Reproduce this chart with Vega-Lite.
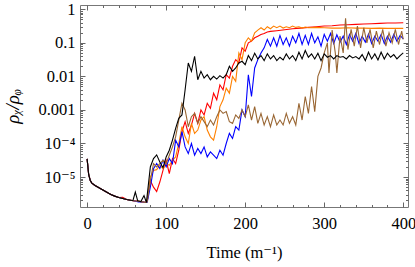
{
"$schema":"https://vega.github.io/schema/vega-lite/v6.json",
"autosize":{"type":"none"},
"padding":{"left":80,"top":5,"right":7,"bottom":60},
"width":328,"height":202,
"config":{"view":{"stroke":"#777","strokeWidth":1},"font":"Liberation Serif, Times New Roman, DejaVu Serif, serif"},
"datasets":{"d":[
{"s":"red","t":0,"v":3.47e-5},{"s":"red","t":2,"v":1.17e-5},{"s":"red","t":4,"v":7.9e-6},{"s":"red","t":6,"v":6.6e-6},{"s":"red","t":10,"v":5.6e-6},{"s":"red","t":15,"v":4.8e-6},{"s":"red","t":20,"v":4.1e-6},{"s":"red","t":25,"v":3.5e-6},{"s":"red","t":30,"v":3.0e-6},{"s":"red","t":35,"v":2.7e-6},{"s":"red","t":40,"v":2.45e-6},{"s":"red","t":45,"v":2.5e-6},{"s":"red","t":50,"v":2.14e-6},{"s":"red","t":55,"v":2.04e-6},{"s":"red","t":60,"v":1.95e-6},{"s":"red","t":65,"v":1.9e-6},{"s":"red","t":70,"v":1.82e-6},{"s":"red","t":74,"v":1.74e-6},
{"s":"red","t":76,"v":1.9e-6},{"s":"red","t":80,"v":7.9e-6},{"s":"red","t":84,"v":5.0e-6},{"s":"red","t":88,"v":3.7e-6},{"s":"red","t":92,"v":7.1e-6},{"s":"red","t":96,"v":1.58e-5},{"s":"red","t":100,"v":3.16e-5},{"s":"red","t":104,"v":1.26e-5},{"s":"red","t":108,"v":3.55e-5},{"s":"red","t":112,"v":2.51e-5},{"s":"red","t":116,"v":6.3e-5},{"s":"red","t":120,"v":2.24e-4},{"s":"red","t":124,"v":4.47e-4},{"s":"red","t":128,"v":2.0e-4},{"s":"red","t":132,"v":3.55e-4},{"s":"red","t":136,"v":7.9e-4},{"s":"red","t":140,"v":3.98e-4},{"s":"red","t":144,"v":1.0e-3},{"s":"red","t":148,"v":7.1e-4},{"s":"red","t":152,"v":1.58e-3},{"s":"red","t":156,"v":1.12e-3},{"s":"red","t":160,"v":3.16e-3},{"s":"red","t":164,"v":2.0e-3},{"s":"red","t":168,"v":5.6e-3},{"s":"red","t":172,"v":3.98e-3},{"s":"red","t":176,"v":0.0112},{"s":"red","t":180,"v":0.0089},{"s":"red","t":184,"v":0.02},{"s":"red","t":188,"v":0.0316},{"s":"red","t":192,"v":0.0251},{"s":"red","t":196,"v":0.0708},{"s":"red","t":200,"v":0.0562},{"s":"red","t":204,"v":0.1},{"s":"red","t":208,"v":0.112},{"s":"red","t":212,"v":0.141},{"s":"red","t":216,"v":0.158},{"s":"red","t":220,"v":0.178},{"s":"red","t":224,"v":0.19},{"s":"red","t":228,"v":0.209},{"s":"red","t":232,"v":0.219},{"s":"red","t":240,"v":0.229},{"s":"red","t":250,"v":0.245},{"s":"red","t":260,"v":0.263},{"s":"red","t":270,"v":0.275},{"s":"red","t":280,"v":0.288},{"s":"red","t":290,"v":0.302},{"s":"red","t":300,"v":0.316},{"s":"red","t":310,"v":0.324},{"s":"red","t":320,"v":0.339},{"s":"red","t":330,"v":0.347},{"s":"red","t":340,"v":0.355},{"s":"red","t":350,"v":0.363},{"s":"red","t":360,"v":0.372},{"s":"red","t":370,"v":0.38},{"s":"red","t":380,"v":0.389},{"s":"red","t":390,"v":0.389},{"s":"red","t":400,"v":0.398},
{"s":"orange","t":0,"v":3.47e-5},{"s":"orange","t":2,"v":1.17e-5},{"s":"orange","t":4,"v":7.9e-6},{"s":"orange","t":6,"v":6.6e-6},{"s":"orange","t":10,"v":5.6e-6},{"s":"orange","t":15,"v":4.8e-6},{"s":"orange","t":20,"v":4.1e-6},{"s":"orange","t":25,"v":3.5e-6},{"s":"orange","t":30,"v":3.0e-6},{"s":"orange","t":35,"v":2.7e-6},{"s":"orange","t":40,"v":2.45e-6},{"s":"orange","t":45,"v":2.3e-6},{"s":"orange","t":50,"v":2.14e-6},{"s":"orange","t":55,"v":2.04e-6},{"s":"orange","t":60,"v":1.95e-6},{"s":"orange","t":65,"v":1.9e-6},{"s":"orange","t":70,"v":1.82e-6},{"s":"orange","t":74,"v":1.74e-6},
{"s":"orange","t":76,"v":1.82e-6},{"s":"orange","t":80,"v":1.0e-5},{"s":"orange","t":84,"v":1.58e-5},{"s":"orange","t":88,"v":1.66e-5},{"s":"orange","t":92,"v":2.24e-5},{"s":"orange","t":96,"v":1.78e-5},{"s":"orange","t":100,"v":2.51e-5},{"s":"orange","t":104,"v":2.24e-5},{"s":"orange","t":108,"v":3.16e-5},{"s":"orange","t":112,"v":3.98e-5},{"s":"orange","t":116,"v":1.0e-4},{"s":"orange","t":120,"v":3.16e-4},{"s":"orange","t":124,"v":1.58e-4},{"s":"orange","t":128,"v":1.0e-4},{"s":"orange","t":132,"v":3.98e-4},{"s":"orange","t":136,"v":2.0e-4},{"s":"orange","t":140,"v":2.51e-4},{"s":"orange","t":144,"v":5.0e-4},{"s":"orange","t":148,"v":6.3e-4},{"s":"orange","t":152,"v":2.51e-4},{"s":"orange","t":156,"v":1.58e-4},{"s":"orange","t":160,"v":1.26e-4},{"s":"orange","t":164,"v":3.16e-4},{"s":"orange","t":168,"v":1.26e-3},{"s":"orange","t":172,"v":2.0e-3},{"s":"orange","t":176,"v":4.47e-3},{"s":"orange","t":180,"v":3.16e-3},{"s":"orange","t":184,"v":0.01},{"s":"orange","t":188,"v":7.1e-3},{"s":"orange","t":192,"v":0.05},{"s":"orange","t":196,"v":0.0316},{"s":"orange","t":200,"v":0.1},{"s":"orange","t":204,"v":0.141},{"s":"orange","t":208,"v":0.112},{"s":"orange","t":212,"v":0.2},{"s":"orange","t":216,"v":0.24},{"s":"orange","t":220,"v":0.282},{"s":"orange","t":224,"v":0.24},{"s":"orange","t":228,"v":0.302},{"s":"orange","t":232,"v":0.263},{"s":"orange","t":236,"v":0.316},{"s":"orange","t":240,"v":0.282},{"s":"orange","t":244,"v":0.316},{"s":"orange","t":248,"v":0.275},{"s":"orange","t":252,"v":0.302},{"s":"orange","t":256,"v":0.282},{"s":"orange","t":260,"v":0.316},{"s":"orange","t":264,"v":0.288},{"s":"orange","t":268,"v":0.302},{"s":"orange","t":272,"v":0.275},{"s":"orange","t":276,"v":0.295},{"s":"orange","t":280,"v":0.282},{"s":"orange","t":290,"v":0.288},{"s":"orange","t":300,"v":0.282},{"s":"orange","t":310,"v":0.275},{"s":"orange","t":320,"v":0.275},{"s":"orange","t":330,"v":0.282},{"s":"orange","t":340,"v":0.275},{"s":"orange","t":350,"v":0.275},{"s":"orange","t":360,"v":0.269},{"s":"orange","t":370,"v":0.275},{"s":"orange","t":380,"v":0.269},{"s":"orange","t":390,"v":0.269},{"s":"orange","t":400,"v":0.269},
{"s":"blue","t":0,"v":3.47e-5},{"s":"blue","t":2,"v":1.17e-5},{"s":"blue","t":4,"v":7.9e-6},{"s":"blue","t":6,"v":6.6e-6},{"s":"blue","t":10,"v":5.6e-6},{"s":"blue","t":15,"v":4.8e-6},{"s":"blue","t":20,"v":4.1e-6},{"s":"blue","t":25,"v":3.5e-6},{"s":"blue","t":30,"v":3.0e-6},{"s":"blue","t":35,"v":2.7e-6},{"s":"blue","t":40,"v":2.45e-6},{"s":"blue","t":45,"v":2.3e-6},{"s":"blue","t":50,"v":2.14e-6},{"s":"blue","t":55,"v":2.04e-6},{"s":"blue","t":60,"v":1.95e-6},{"s":"blue","t":65,"v":1.8e-6},{"s":"blue","t":70,"v":1.82e-6},{"s":"blue","t":74,"v":1.74e-6},
{"s":"blue","t":76,"v":1.78e-6},{"s":"blue","t":80,"v":5.0e-6},{"s":"blue","t":84,"v":1.78e-5},{"s":"blue","t":88,"v":2.51e-5},{"s":"blue","t":92,"v":1.78e-5},{"s":"blue","t":96,"v":3.16e-5},{"s":"blue","t":100,"v":2.0e-5},{"s":"blue","t":104,"v":3.55e-5},{"s":"blue","t":108,"v":2.51e-5},{"s":"blue","t":112,"v":1.26e-4},{"s":"blue","t":116,"v":7.9e-5},{"s":"blue","t":120,"v":2.24e-4},{"s":"blue","t":124,"v":7.9e-5},{"s":"blue","t":128,"v":5.0e-5},{"s":"blue","t":132,"v":1.0e-4},{"s":"blue","t":136,"v":4.47e-5},{"s":"blue","t":140,"v":7.1e-5},{"s":"blue","t":144,"v":5.0e-5},{"s":"blue","t":148,"v":7.9e-5},{"s":"blue","t":152,"v":3.98e-5},{"s":"blue","t":156,"v":5.6e-5},{"s":"blue","t":160,"v":4.47e-5},{"s":"blue","t":164,"v":3.55e-5},{"s":"blue","t":168,"v":6.3e-5},{"s":"blue","t":172,"v":4.47e-5},{"s":"blue","t":176,"v":1.0e-4},{"s":"blue","t":180,"v":2.0e-4},{"s":"blue","t":184,"v":1.41e-4},{"s":"blue","t":188,"v":3.16e-4},{"s":"blue","t":192,"v":2.51e-4},{"s":"blue","t":196,"v":1.0e-3},{"s":"blue","t":200,"v":6.3e-4},{"s":"blue","t":204,"v":0.0112},{"s":"blue","t":208,"v":2.51e-3},{"s":"blue","t":212,"v":0.0178},{"s":"blue","t":216,"v":0.0316},{"s":"blue","t":220,"v":0.05},{"s":"blue","t":224,"v":0.0708},{"s":"blue","t":228,"v":0.126},{"s":"blue","t":232,"v":0.0794},{"s":"blue","t":236,"v":0.141},{"s":"blue","t":240,"v":0.0794},{"s":"blue","t":244,"v":0.166},{"s":"blue","t":248,"v":0.0891},{"s":"blue","t":252,"v":0.141},{"s":"blue","t":256,"v":0.0794},{"s":"blue","t":260,"v":0.158},{"s":"blue","t":264,"v":0.1},{"s":"blue","t":268,"v":0.19},{"s":"blue","t":272,"v":0.0891},{"s":"blue","t":276,"v":0.166},{"s":"blue","t":280,"v":0.0891},{"s":"blue","t":284,"v":0.19},{"s":"blue","t":288,"v":0.1},{"s":"blue","t":292,"v":0.151},{"s":"blue","t":296,"v":0.0794},{"s":"blue","t":300,"v":0.178},{"s":"blue","t":304,"v":0.112},{"s":"blue","t":308,"v":0.19},{"s":"blue","t":312,"v":0.0955},{"s":"blue","t":316,"v":0.174},{"s":"blue","t":320,"v":0.105},{"s":"blue","t":324,"v":0.158},{"s":"blue","t":328,"v":0.0891},{"s":"blue","t":332,"v":0.178},{"s":"blue","t":336,"v":0.112},{"s":"blue","t":340,"v":0.19},{"s":"blue","t":344,"v":0.0955},{"s":"blue","t":348,"v":0.158},{"s":"blue","t":352,"v":0.105},{"s":"blue","t":356,"v":0.182},{"s":"blue","t":360,"v":0.0955},{"s":"blue","t":364,"v":0.158},{"s":"blue","t":368,"v":0.112},{"s":"blue","t":372,"v":0.178},{"s":"blue","t":376,"v":0.0955},{"s":"blue","t":380,"v":0.158},{"s":"blue","t":384,"v":0.105},{"s":"blue","t":388,"v":0.178},{"s":"blue","t":392,"v":0.112},{"s":"blue","t":396,"v":0.166},{"s":"blue","t":400,"v":0.132},
{"s":"brown","t":0,"v":3.47e-5},{"s":"brown","t":2,"v":1.17e-5},{"s":"brown","t":4,"v":7.9e-6},{"s":"brown","t":6,"v":6.6e-6},{"s":"brown","t":10,"v":5.6e-6},{"s":"brown","t":15,"v":4.8e-6},{"s":"brown","t":20,"v":4.1e-6},{"s":"brown","t":25,"v":3.5e-6},{"s":"brown","t":30,"v":3.0e-6},{"s":"brown","t":35,"v":2.7e-6},{"s":"brown","t":40,"v":2.45e-6},{"s":"brown","t":45,"v":2.3e-6},{"s":"brown","t":50,"v":2.14e-6},{"s":"brown","t":55,"v":2.04e-6},{"s":"brown","t":60,"v":1.95e-6},{"s":"brown","t":65,"v":1.9e-6},{"s":"brown","t":70,"v":1.82e-6},{"s":"brown","t":74,"v":1.74e-6},
{"s":"brown","t":76,"v":1.82e-6},{"s":"brown","t":80,"v":7.9e-6},{"s":"brown","t":84,"v":2.51e-5},{"s":"brown","t":88,"v":2.0e-5},{"s":"brown","t":92,"v":2.51e-5},{"s":"brown","t":96,"v":3.16e-5},{"s":"brown","t":100,"v":2.51e-5},{"s":"brown","t":104,"v":4.47e-5},{"s":"brown","t":108,"v":7.9e-5},{"s":"brown","t":112,"v":1.58e-4},{"s":"brown","t":116,"v":5.0e-4},{"s":"brown","t":120,"v":1.58e-3},{"s":"brown","t":124,"v":1.0e-3},{"s":"brown","t":128,"v":3.16e-4},{"s":"brown","t":132,"v":6.3e-4},{"s":"brown","t":136,"v":7.9e-4},{"s":"brown","t":140,"v":3.98e-4},{"s":"brown","t":144,"v":6.3e-4},{"s":"brown","t":148,"v":4.47e-4},{"s":"brown","t":152,"v":3.16e-4},{"s":"brown","t":156,"v":5.0e-4},{"s":"brown","t":160,"v":3.55e-4},{"s":"brown","t":164,"v":6.3e-4},{"s":"brown","t":168,"v":1.0e-3},{"s":"brown","t":172,"v":7.9e-4},{"s":"brown","t":176,"v":8.9e-4},{"s":"brown","t":180,"v":4.47e-4},{"s":"brown","t":184,"v":3.98e-4},{"s":"brown","t":188,"v":7.1e-4},{"s":"brown","t":192,"v":5.6e-4},{"s":"brown","t":196,"v":1.0e-3},{"s":"brown","t":200,"v":6.3e-4},{"s":"brown","t":204,"v":1.41e-3},{"s":"brown","t":208,"v":5.0e-4},{"s":"brown","t":212,"v":1.26e-3},{"s":"brown","t":216,"v":3.98e-4},{"s":"brown","t":220,"v":7.9e-4},{"s":"brown","t":224,"v":3.55e-4},{"s":"brown","t":228,"v":6.3e-4},{"s":"brown","t":232,"v":3.16e-4},{"s":"brown","t":236,"v":7.1e-4},{"s":"brown","t":240,"v":3.55e-4},{"s":"brown","t":244,"v":5.0e-4},{"s":"brown","t":248,"v":3.55e-4},{"s":"brown","t":252,"v":7.9e-4},{"s":"brown","t":256,"v":3.98e-4},{"s":"brown","t":260,"v":6.3e-4},{"s":"brown","t":264,"v":3.55e-4},{"s":"brown","t":268,"v":1.58e-3},{"s":"brown","t":272,"v":5.0e-4},{"s":"brown","t":276,"v":2.51e-3},{"s":"brown","t":280,"v":7.9e-4},{"s":"brown","t":284,"v":5.0e-3},{"s":"brown","t":288,"v":8.9e-4},{"s":"brown","t":292,"v":0.01},{"s":"brown","t":296,"v":0.0178},{"s":"brown","t":300,"v":0.05},{"s":"brown","t":304,"v":0.1},{"s":"brown","t":306,"v":0.0126},{"s":"brown","t":310,"v":0.24},{"s":"brown","t":314,"v":0.05},{"s":"brown","t":316,"v":0.0126},{"s":"brown","t":320,"v":0.158},{"s":"brown","t":324,"v":0.05},{"s":"brown","t":327,"v":0.537},{"s":"brown","t":330,"v":0.063},{"s":"brown","t":334,"v":0.251},{"s":"brown","t":338,"v":0.0794},{"s":"brown","t":342,"v":0.316},{"s":"brown","t":346,"v":0.0708},{"s":"brown","t":350,"v":0.282},{"s":"brown","t":354,"v":0.1},{"s":"brown","t":358,"v":0.251},{"s":"brown","t":362,"v":0.0708},{"s":"brown","t":366,"v":0.224},{"s":"brown","t":370,"v":0.0891},{"s":"brown","t":374,"v":0.251},{"s":"brown","t":378,"v":0.0794},{"s":"brown","t":382,"v":0.2},{"s":"brown","t":386,"v":0.1},{"s":"brown","t":390,"v":0.251},{"s":"brown","t":394,"v":0.0891},{"s":"brown","t":398,"v":0.224},{"s":"brown","t":400,"v":0.126},
{"s":"black","t":0,"v":3.47e-5},{"s":"black","t":2,"v":1.17e-5},{"s":"black","t":4,"v":7.9e-6},{"s":"black","t":6,"v":6.6e-6},{"s":"black","t":10,"v":5.6e-6},{"s":"black","t":15,"v":4.8e-6},{"s":"black","t":20,"v":4.1e-6},{"s":"black","t":25,"v":3.5e-6},{"s":"black","t":30,"v":3.0e-6},{"s":"black","t":35,"v":2.7e-6},{"s":"black","t":40,"v":2.45e-6},{"s":"black","t":45,"v":2.3e-6},{"s":"black","t":50,"v":2.14e-6},{"s":"black","t":55,"v":2.04e-6},{"s":"black","t":58,"v":2.0e-6},{"s":"black","t":61,"v":3.55e-6},{"s":"black","t":64,"v":1.95e-6},{"s":"black","t":68,"v":1.86e-6},{"s":"black","t":72,"v":2.8e-6},{"s":"black","t":75,"v":1.74e-6},
{"s":"black","t":80,"v":2.0e-5},{"s":"black","t":84,"v":3.55e-5},{"s":"black","t":88,"v":4.57e-5},{"s":"black","t":92,"v":2.82e-5},{"s":"black","t":96,"v":1.9e-5},{"s":"black","t":100,"v":3.98e-5},{"s":"black","t":104,"v":6.3e-5},{"s":"black","t":108,"v":1.26e-4},{"s":"black","t":112,"v":2.82e-4},{"s":"black","t":116,"v":5.6e-4},{"s":"black","t":120,"v":7.1e-4},{"s":"black","t":124,"v":3.98e-3},{"s":"black","t":128,"v":0.0251},{"s":"black","t":132,"v":0.0141},{"s":"black","t":136,"v":0.0398},{"s":"black","t":140,"v":0.00794},{"s":"black","t":144,"v":0.0141},{"s":"black","t":148,"v":0.00891},{"s":"black","t":152,"v":0.0112},{"s":"black","t":156,"v":0.00794},{"s":"black","t":160,"v":0.01},{"s":"black","t":164,"v":0.0083},{"s":"black","t":168,"v":0.0105},{"s":"black","t":172,"v":0.0089},{"s":"black","t":176,"v":0.0112},{"s":"black","t":180,"v":0.02},{"s":"black","t":184,"v":0.0141},{"s":"black","t":188,"v":0.0178},{"s":"black","t":192,"v":0.0251},{"s":"black","t":196,"v":0.0282},{"s":"black","t":200,"v":0.0224},{"s":"black","t":204,"v":0.0417},{"s":"black","t":208,"v":0.0295},{"s":"black","t":212,"v":0.049},{"s":"black","t":216,"v":0.0331},{"s":"black","t":220,"v":0.0417},{"s":"black","t":224,"v":0.0295},{"s":"black","t":228,"v":0.0468},{"s":"black","t":232,"v":0.0331},{"s":"black","t":236,"v":0.0417},{"s":"black","t":240,"v":0.0295},{"s":"black","t":244,"v":0.0372},{"s":"black","t":248,"v":0.0309},{"s":"black","t":252,"v":0.0468},{"s":"black","t":256,"v":0.0331},{"s":"black","t":260,"v":0.0417},{"s":"black","t":264,"v":0.0295},{"s":"black","t":268,"v":0.0525},{"s":"black","t":272,"v":0.0331},{"s":"black","t":276,"v":0.0589},{"s":"black","t":280,"v":0.0372},{"s":"black","t":284,"v":0.0468},{"s":"black","t":288,"v":0.0331},{"s":"black","t":292,"v":0.049},{"s":"black","t":296,"v":0.0295},{"s":"black","t":300,"v":0.0468},{"s":"black","t":304,"v":0.0372},{"s":"black","t":308,"v":0.0417},{"s":"black","t":312,"v":0.0331},{"s":"black","t":316,"v":0.0417},{"s":"black","t":320,"v":0.0372},{"s":"black","t":324,"v":0.0389},{"s":"black","t":328,"v":0.0331},{"s":"black","t":332,"v":0.0417},{"s":"black","t":336,"v":0.0355},{"s":"black","t":340,"v":0.0389},{"s":"black","t":344,"v":0.0331},{"s":"black","t":348,"v":0.0447},{"s":"black","t":352,"v":0.0295},{"s":"black","t":356,"v":0.0525},{"s":"black","t":360,"v":0.0331},{"s":"black","t":364,"v":0.0468},{"s":"black","t":368,"v":0.0309},{"s":"black","t":372,"v":0.0525},{"s":"black","t":376,"v":0.0331},{"s":"black","t":380,"v":0.049},{"s":"black","t":384,"v":0.0372},{"s":"black","t":388,"v":0.0447},{"s":"black","t":392,"v":0.0331},{"s":"black","t":396,"v":0.0417},{"s":"black","t":400,"v":0.05}
]},
"data":{"name":"d"},
"resolve":{"axis":{"x":"independent","y":"independent"}},
"layer":[
{"mark":{"type":"line","strokeWidth":1.1,"clip":true},
 "encoding":{
  "x":{"field":"t","type":"quantitative","scale":{"domain":[-9,406],"nice":false,"zero":false},
   "axis":{"orient":"bottom","values":[0,100,200,300,400],"ticks":false,"domain":false,"grid":false,"labelFont":"Liberation Serif, Times New Roman, DejaVu Serif, serif","labelFontSize":16.5,"labelColor":"#000","labelPadding":8,"labelFlush":false,"title":"Time (m⁻¹)","titleFont":"Liberation Serif, Times New Roman, DejaVu Serif, serif","titleFontSize":16.5,"titleFontWeight":"normal","titleColor":"#000","titlePadding":13}},
  "y":{"field":"v","type":"quantitative","scale":{"type":"log","domain":[1.28e-6,1.34],"nice":false},
   "axis":{"orient":"left","values":[1e-5,1e-4,0.001,0.01,0.1,1],"ticks":false,"domain":false,"grid":false,"labelFont":"Liberation Serif, Times New Roman, DejaVu Serif, serif","labelFontSize":16.5,"labelColor":"#000","labelPadding":5,"labelFlush":false,
    "labelExpr":"datum.value >= 0.0009 ? (datum.value >= 0.9 ? '1' : datum.value >= 0.09 ? '0.1' : datum.value >= 0.009 ? '0.01' : '0.001') : (datum.value >= 0.00009 ? '10⁻⁴' : '10⁻⁵')",
    "title":"ρᵪ/ρᵩ","titleFont":"Liberation Serif, DejaVu Serif, serif","titleFontSize":19,"titleFontStyle":"italic","titleFontWeight":"normal","titleColor":"#000","titlePadding":15}},
  "color":{"field":"s","type":"nominal","scale":{"domain":["red","orange","blue","brown","black"],"range":["#ff0000","#ff8000","#0000ff","#996633","#000000"]},"legend":null}
 }},
{"mark":{"type":"point","opacity":0},
 "encoding":{
  "x":{"field":"t","type":"quantitative","scale":{"domain":[-9,406],"nice":false,"zero":false},
   "axis":{"orient":"top","offset":-202,"values":[0,100,200,300,400],"labels":false,"domain":false,"grid":false,"tickSize":5,"tickColor":"#666","title":null}},
  "y":{"field":"v","type":"quantitative","scale":{"type":"log","domain":[1.28e-6,1.34],"nice":false},
   "axis":{"orient":"right","offset":-328,"values":[1e-5,1e-4,0.001,0.01,0.1,1],"labels":false,"domain":false,"grid":false,"tickSize":5,"tickColor":"#666","title":null}}
 }},
{"mark":{"type":"point","opacity":0},
 "encoding":{
  "x":{"field":"t","type":"quantitative","scale":{"domain":[-9,406],"nice":false,"zero":false},
   "axis":{"orient":"top","offset":-202,"values":[20,40,60,80,120,140,160,180,220,240,260,280,320,340,360,380],"labels":false,"domain":false,"grid":false,"tickSize":2.5,"tickColor":"#666","title":null}},
  "y":{"field":"v","type":"quantitative","scale":{"type":"log","domain":[1.28e-6,1.34],"nice":false},
   "axis":{"orient":"right","offset":-328,"values":[2e-6,3e-6,4e-6,5e-6,6e-6,7e-6,8e-6,9e-6,2e-5,3e-5,4e-5,5e-5,6e-5,7e-5,8e-5,9e-5,2e-4,3e-4,4e-4,5e-4,6e-4,7e-4,8e-4,9e-4,0.002,0.003,0.004,0.005,0.006,0.007,0.008,0.009,0.02,0.03,0.04,0.05,0.06,0.07,0.08,0.09,0.2,0.3,0.4,0.5,0.6,0.7,0.8,0.9],"labels":false,"domain":false,"grid":false,"tickSize":2.5,"tickColor":"#666","title":null}}
 }},
{"mark":{"type":"point","opacity":0},
 "encoding":{
  "x":{"field":"t","type":"quantitative","scale":{"domain":[-9,406],"nice":false,"zero":false},
   "axis":{"orient":"bottom","offset":-202,"values":[0,100,200,300,400],"labels":false,"domain":false,"grid":false,"tickSize":5,"tickColor":"#666","title":null}},
  "y":{"field":"v","type":"quantitative","scale":{"type":"log","domain":[1.28e-6,1.34],"nice":false},
   "axis":{"orient":"left","offset":-328,"values":[1e-5,1e-4,0.001,0.01,0.1,1],"labels":false,"domain":false,"grid":false,"tickSize":5,"tickColor":"#666","title":null}}
 }},
{"mark":{"type":"point","opacity":0},
 "encoding":{
  "x":{"field":"t","type":"quantitative","scale":{"domain":[-9,406],"nice":false,"zero":false},
   "axis":{"orient":"bottom","offset":-202,"values":[20,40,60,80,120,140,160,180,220,240,260,280,320,340,360,380],"labels":false,"domain":false,"grid":false,"tickSize":2.5,"tickColor":"#666","title":null}},
  "y":{"field":"v","type":"quantitative","scale":{"type":"log","domain":[1.28e-6,1.34],"nice":false},
   "axis":{"orient":"left","offset":-328,"values":[2e-6,3e-6,4e-6,5e-6,6e-6,7e-6,8e-6,9e-6,2e-5,3e-5,4e-5,5e-5,6e-5,7e-5,8e-5,9e-5,2e-4,3e-4,4e-4,5e-4,6e-4,7e-4,8e-4,9e-4,0.002,0.003,0.004,0.005,0.006,0.007,0.008,0.009,0.02,0.03,0.04,0.05,0.06,0.07,0.08,0.09,0.2,0.3,0.4,0.5,0.6,0.7,0.8,0.9],"labels":false,"domain":false,"grid":false,"tickSize":2.5,"tickColor":"#666","title":null}}
 }}
]
}
